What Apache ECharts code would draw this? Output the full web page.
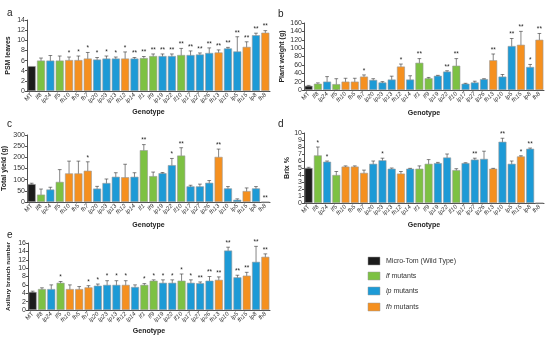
<!DOCTYPE html>
<html><head><meta charset="utf-8">
<script src="https://cdn.jsdelivr.net/npm/echarts@6/dist/echarts.min.js"></script>
<style>html,body{margin:0;padding:0;background:#fff}#c{width:550px;height:339px}</style>
</head><body><div id="c"></div>
<script>
const categories = ['MT','lf8','lp24','lf5','fh10','fh5','fh7','lp20','lp23','lp13','fh12','lp14','lf1','lf9','lp19','lp22','lf10','lp17','lp27','lp26','fh13','lp10','lp5','fh15','lp8','fh8'];

const psmLeaves = [4.9,6.0,6.0,6.0,6.1,6.1,6.4,6.2,6.4,6.4,6.4,6.4,6.5,6.9,6.9,6.9,7.1,7.1,7.2,7.5,7.6,8.4,7.8,8.7,11.0,11.5];
const psmErr    = [0,0.5,1.0,0.9,0.6,0.8,1.2,0.4,0.5,0.3,1.3,0.2,0.3,0.4,0.4,0.4,1.3,0.8,0.3,1.0,0.5,0.2,2.9,1.0,0.4,0.4];
const psmSig    = ['','','','','*','*','*','*','*','*','*','**','**','**','**','**','**','**','**','**','**','**','**','**','**','**'];

const plantWeight = [10,15,20,14,20,20,32,24,18,25,56,25,65,28,34,44,58,15,18,26,71,32,105,108,55,120];
const weightErr   = [1,2,12,13,8,8,4,3,2,8,6,9,10,2,1,2,17,1,3,1,15,5,18,32,6,15];
const weightSig   = ['','','','','','','*','','','','*','','**','','','**','**','','','','**','','**','**','*','**'];

const totalYield = [80,33,56,90,128,128,140,60,85,113,111,113,232,116,129,165,208,70,70,86,202,61,10,49,61,0];
const yieldErr   = [4,25,10,55,55,55,40,10,18,18,58,18,25,18,3,30,35,5,10,10,35,8,4,14,8,0];
const yieldSig   = ['','','','','','','*','','','','','','**','','','*','**','','','','**','','','','','**'];

const brix    = [5.0,6.8,5.9,4.0,5.2,5.2,4.3,5.6,6.1,4.9,4.2,4.9,4.9,5.6,5.7,6.5,4.7,5.7,6.2,6.3,4.9,8.75,5.6,6.65,7.75,0];
const brixErr = [0.1,1.2,0.1,0.5,0.1,0.1,0.4,0.4,0.3,0.1,0.3,0.05,0.4,0.6,0.1,0.5,0.2,0.05,0.2,1.1,0.05,0.5,0.4,0.1,0.1,0];
const brixSig = ['','*','*','','','','','','*','','','','','','','','','','**','','','**','','*','**',''];

const branches   = [4.3,5.0,5.0,6.5,5.0,5.0,5.4,5.8,6.0,6.0,6.0,5.5,6.0,7.0,6.5,6.5,7.0,6.5,6.4,7.0,7.2,14.2,7.8,8.2,11.5,12.7];
const branchErr  = [0.2,0.3,1.0,0.3,1.0,0.6,0.4,0.4,1.0,1.0,1.0,0.5,0.3,0.2,0.7,0.7,1.6,0.7,0.3,1.0,0.7,0.8,0.5,0.8,3.7,0.7];
const branchSig  = ['','','','*','','','*','*','*','*','*','','*','*','*','*','*','*','**','**','**','**','**','**','**','**'];

const legendNames = ['Micro-Tom (Wild Type)','lf mutants','lp mutants','fh mutants'];

const COLORS = {MT:'#1c1c1c', lf:'#7dc143', lp:'#1d9ad6', fh:'#f5901f'};
function colorOf(c){ return c==='MT'?COLORS.MT:COLORS[c.slice(0,2)]; }

const FONT = 'Arial, "Liberation Sans", sans-serif';
const panels = [
  {name:'PSM leaves', vals:psmLeaves, errs:psmErr, sigs:psmSig, max:14, interval:2, grid:{left:27,top:20,width:243,height:71}, nameGapY:15, nameGapX:18, ns:7},
  {name:'Plant weight (g)', vals:plantWeight, errs:weightErr, sigs:weightSig, max:160, interval:20, grid:{left:304,top:23,width:240,height:67}, nameGapY:18, nameGapX:20, ns:7},
  {name:'Total yield (g)', vals:totalYield, errs:yieldErr, sigs:yieldSig, max:300, interval:50, grid:{left:27,top:135,width:243,height:67}, nameGapY:19, nameGapX:20, ns:7},
  {name:'Brix %', vals:brix, errs:brixErr, sigs:brixSig, max:10, interval:1, grid:{left:304,top:133,width:240,height:70}, nameGapY:13, nameGapX:19, ns:7},
  {name:'Axillary branch number', vals:branches, errs:branchErr, sigs:branchSig, max:16, interval:2, grid:{left:28,top:243,width:242,height:67}, nameGapY:17, nameGapX:18, ns:6.2}
];

const grid=[], xAxis=[], yAxis=[], series=[];
panels.forEach((p,k)=>{
  grid.push(Object.assign({containLabel:false}, p.grid));
  xAxis.push({type:'category', gridIndex:k, data:categories,
    name:'Genotype', nameLocation:'middle', nameGap:p.nameGapX,
    nameTextStyle:{fontFamily:FONT,fontSize:7,fontWeight:'bold',color:'#222'},
    axisLine:{lineStyle:{color:'#222',width:0.8}}, axisTick:{show:false},
    axisLabel:{interval:0, rotate:45, fontSize:6, margin:3, color:'#333', fontFamily:FONT,
      formatter:v=> v==='MT'?v:'{i|'+v+'}', rich:{i:{fontStyle:'italic',fontSize:6,fontFamily:FONT,color:'#333'}}}
  });
  yAxis.push({type:'value', gridIndex:k, min:0, max:p.max, interval:p.interval,
    name:p.name, nameLocation:'middle', nameGap:p.nameGapY, nameRotate:90,
    nameTextStyle:{fontFamily:FONT,fontSize:p.ns,fontWeight:'bold',color:'#222'},
    axisLine:{show:true,lineStyle:{color:'#222',width:0.8}}, axisTick:{show:true,length:2,lineStyle:{color:'#222',width:0.8}},
    splitLine:{show:false},
    axisLabel:{fontSize:7, margin:2, color:'#333', fontFamily:FONT}
  });
  series.push({type:'bar', xAxisIndex:k, yAxisIndex:k, barCategoryGap:'14%',
    data:p.vals.map((v,i)=>({value:v, itemStyle:{color:colorOf(categories[i])}})),
    itemStyle:{borderColor:'#9a9a9a', borderWidth:0.6}, silent:true, animation:false});
  series.push({type:'custom', xAxisIndex:k, yAxisIndex:k, silent:true, animation:false,
    data:p.vals.map((v,i)=>[i, v, p.errs[i]]),
    renderItem:(params, api)=>{
      const i=api.value(0), v=api.value(1), e=api.value(2);
      const t=api.coord([i, v+e]), b=api.coord([i, Math.max(0,v-e)]);
      const w=api.size([1,0])[0]*0.2;
      const st={stroke:'#333', lineWidth:0.6};
      const ch=[];
      if(e>0){
        ch.push({type:'line',shape:{x1:t[0],y1:t[1],x2:b[0],y2:b[1]},style:st});
        ch.push({type:'line',shape:{x1:t[0]-w,y1:t[1],x2:t[0]+w,y2:t[1]},style:st});
        ch.push({type:'line',shape:{x1:b[0]-w,y1:b[1],x2:b[0]+w,y2:b[1]},style:st});
      }
      const s=p.sigs[params.dataIndex];
      if(s){
        ch.push({type:'text',x:t[0],y:t[1]-0.5,style:{text:s,fill:'#222',fontSize:6.5,fontFamily:FONT,align:'center',verticalAlign:'bottom'}});
      }
      return {type:'group',children:ch};
    }
  });
});

const graphic=[];
[['a',7,8],['b',278,9],['c',7,119],['d',278,119],['e',7,230]].forEach(([t,x,y])=>{
  graphic.push({type:'text',left:x,top:y,style:{text:t,fontSize:10,fontFamily:FONT,fill:'#222'}});
});
const legColors=[COLORS.MT,COLORS.lf,COLORS.lp,COLORS.fh];
const legY=[261,276,291,307];
legendNames.forEach((n,i)=>{
  graphic.push({type:'rect',shape:{x:368,y:legY[i]-4,width:12,height:8},style:{fill:legColors[i],stroke:'#999',lineWidth:0.5}});
  const parts = i===0 ? n : '{i|'+n.slice(0,2)+'} '+n.slice(3);
  graphic.push({type:'text',x:386,y:legY[i],style:{text:parts,fontSize:7,fontFamily:FONT,fill:'#333',verticalAlign:'middle',
    rich:{i:{fontStyle:'italic',fontSize:7,fontFamily:FONT,fill:'#333'}}}});
});

const chart=echarts.init(document.getElementById('c'),null,{renderer:'canvas'});
chart.setOption({animation:false, backgroundColor:'#fff', grid, xAxis, yAxis, series, graphic});
</script></body></html>
